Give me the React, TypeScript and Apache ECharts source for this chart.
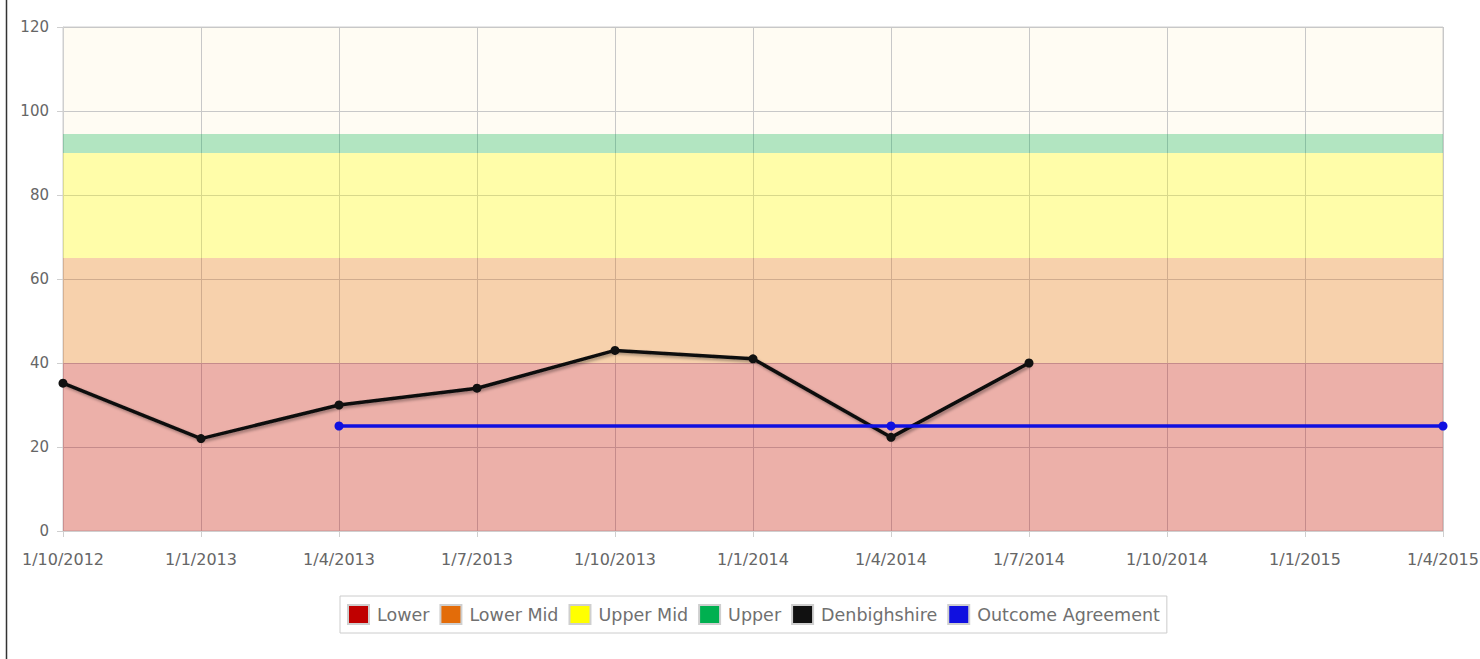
import React, { useEffect, useRef } from "react";
import * as echarts from "echarts";

const categories = [
  "1/10/2012", "1/1/2013", "1/4/2013", "1/7/2013", "1/10/2013", "1/1/2014",
  "1/4/2014", "1/7/2014", "1/10/2014", "1/1/2015", "1/4/2015",
];
const bandNames = ["Lower", "Lower Mid", "Upper Mid", "Upper"];
const bandColors = ["#C00000", "#E36C09", "#FFFF00", "#00B050"];
// band thicknesses (stacked): 0-40, 40-65, 65-90, 90-94.5
const bandSizes = [40, 25, 25, 4.5];
const denbighshire: (number | null)[] = [35.2, 22, 30, 34, 43, 41, 22.3, 40, null, null, null];
const outcomeAgreement: (number | null)[] = [null, null, 25, null, null, null, 25, null, null, null, 25];
const yTicks = { min: 0, max: 120, interval: 20 };

export default function App() {
  const ref = useRef<HTMLDivElement>(null);
  useEffect(() => {
    const chart = echarts.init(ref.current!, undefined, { renderer: "svg" });
    const font = "DejaVu Sans";
    const bandSeries = bandNames.map((name, i) => ({
      name,
      type: "line",
      stack: "bands",
      data: categories.map(() => bandSizes[i]),
      symbol: "none",
      color: bandColors[i],
      lineStyle: { width: 0 },
      areaStyle: { color: bandColors[i], opacity: 0.3 },
      z: 1,
      silent: true,
    }));
    chart.setOption({
      animation: false,
      textStyle: { fontFamily: font },
      grid: {
        left: 63,
        right: 37,
        top: 27,
        bottom: 128,
        outerBoundsMode: "none",
        containLabel: false,
        show: true,
        backgroundColor: "#FFFCF3",
        borderColor: "#cfcfcf",
        borderWidth: 1,
      },
      graphic: [
        {
          type: "line",
          shape: { x1: 6.5, y1: 0, x2: 6.5, y2: 659 },
          style: { stroke: "#333", lineWidth: 1.5 },
        },
      ],
      legend: {
        left: 340,
        top: 596,
        data: [...bandNames, "Denbighshire", "Outcome Agreement"],
        icon: "rect",
        itemWidth: 21,
        itemHeight: 19,
        itemGap: 10,
        padding: [8, 7, 8, 7],
        borderColor: "#cccccc",
        borderWidth: 1,
        itemStyle: { borderColor: "#cfcfcf", borderWidth: 2 },
        textStyle: { color: "#707070", fontSize: 17.5, fontFamily: font, padding: [0, 0, 0, 3] },
      },
      xAxis: {
        type: "category",
        data: categories,
        boundaryGap: false,
        axisLine: { show: true, lineStyle: { color: "#cfcfcf" } },
        axisTick: { show: true, length: 6, lineStyle: { color: "#cfcfcf" } },
        axisLabel: { color: "#666", fontSize: 16, margin: 20, fontFamily: font, showMaxLabel: true, showMinLabel: true },
        splitLine: { show: true, lineStyle: { color: "#c8c8c8" } },
      },
      yAxis: {
        type: "value",
        min: yTicks.min,
        max: yTicks.max,
        interval: yTicks.interval,
        axisLine: { show: true, lineStyle: { color: "#cfcfcf" } },
        axisTick: { show: true, length: 6, lineStyle: { color: "#cfcfcf" } },
        axisLabel: { color: "#666", fontSize: 15, margin: 14, fontFamily: font },
        splitLine: { show: true, lineStyle: { color: "#c8c8c8" } },
      },
      series: [
        ...bandSeries,
        {
          name: "Denbighshire",
          type: "line",
          data: denbighshire,
          color: "#111111",
          symbol: "circle",
          symbolSize: 9,
          lineStyle: {
            width: 3.5,
            color: "#111",
            shadowColor: "rgba(0,0,0,0.35)",
            shadowBlur: 3,
            shadowOffsetX: 2,
            shadowOffsetY: 2,
          },
          itemStyle: { color: "#111" },
          z: 5,
        },
        {
          name: "Outcome Agreement",
          type: "line",
          data: outcomeAgreement,
          connectNulls: true,
          color: "#1010E0",
          symbol: "circle",
          symbolSize: 9,
          lineStyle: { width: 3.5, color: "#1010E0" },
          itemStyle: { color: "#1010E0" },
          z: 6,
        },
      ],
    });
    return () => chart.dispose();
  }, []);
  return (
    <div
      ref={ref}
      style={{ position: "absolute", left: 0, top: 0, width: 1480, height: 659, background: "#fff" }}
    />
  );
}
